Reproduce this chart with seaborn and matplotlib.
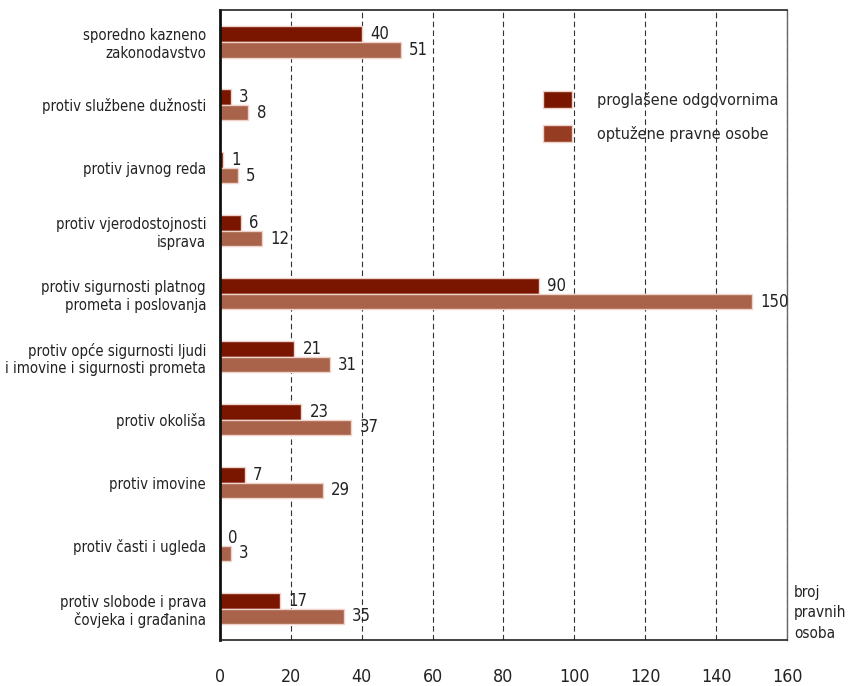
import pandas as pd
import matplotlib
matplotlib.use("Agg")
import matplotlib.pyplot as plt
from matplotlib import font_manager
import seaborn as sns
from matplotlib.patches import Patch

# categories, top to bottom
kategorije = [
    "sporedno kazneno\nzakonodavstvo",
    "protiv službene dužnosti",
    "protiv javnog reda",
    "protiv vjerodostojnosti\nisprava",
    "protiv sigurnosti platnog\nprometa i poslovanja",
    "protiv opće sigurnosti ljudi\ni imovine i sigurnosti prometa",
    "protiv okoliša",
    "protiv imovine",
    "protiv časti i ugleda",
    "protiv slobode i prava\nčovjeka i građanina",
]
proglasene = [40, 3, 1, 6, 90, 21, 23, 7, 0, 17]
optuzene = [51, 8, 5, 12, 150, 31, 37, 29, 3, 35]
serije = ["proglašene odgovornima", "optužene pravne osobe"]
x_ticks = [0, 20, 40, 60, 80, 100, 120, 140, 160]

df = pd.DataFrame({
    "kategorija": kategorije * 2,
    "broj": proglasene + optuzene,
    "serija": [serije[0]] * len(kategorije) + [serije[1]] * len(kategorije),
})

sns.set_style("white")

# reference uses a narrow font; use one if the system has it
fonts = font_manager.fontManager.ttflist
names = {f.name for f in fonts}
fs = 13
if "Liberation Sans Narrow" in names:
    plt.rcParams["font.family"] = ["Liberation Sans Narrow", "DejaVu Sans"]
elif any(f.name == "DejaVu Sans" and f.stretch == "condensed" for f in fonts):
    plt.rcParams["font.family"] = ["DejaVu Sans"]
    plt.rcParams["font.stretch"] = "condensed"
    fs = 11.3
else:
    plt.rcParams["font.family"] = ["Liberation Sans", "DejaVu Sans"]
    fs = 11.3

tamna = "#7a1600"
svijetla = "#a8634a"

fig = plt.figure(figsize=(8.49, 6.86), dpi=100)
ax = fig.add_axes([0.259, 0.067, 0.668, 0.918])

sns.barplot(data=df, y="kategorija", x="broj", hue="serija", orient="h",
            order=kategorije, hue_order=serije, palette=[tamna, svijetla],
            saturation=1, width=0.5, edgecolor="#efd3cb", linewidth=1,
            ax=ax, legend=False)

for cont in ax.containers:
    ax.bar_label(cont, padding=6, fontsize=fs + 0.7, color="#222222")

ax.set_xlim(0, 160)
ax.set_ylim(9.5, -0.5)
ax.set_xticks(x_ticks)
ax.set_xticklabels([str(t) for t in x_ticks], fontsize=fs + 1.5)
ax.tick_params(axis="x", length=0, pad=20, colors="#222222")
ax.tick_params(axis="y", length=0, pad=10, labelsize=fs - 0.6, colors="#222222")
ax.set_xlabel("")
ax.set_ylabel("")

ax.set_axisbelow(True)
ax.grid(axis="x", color="#333333", linestyle=(0, (5, 3)), linewidth=0.8)
ax.grid(axis="y", visible=False)

for s in ["top", "bottom"]:
    ax.spines[s].set_color("#222222")
    ax.spines[s].set_linewidth(1.2)
ax.spines["left"].set_color("#111111")
ax.spines["left"].set_linewidth(2)
ax.spines["right"].set_color("#666666")
ax.spines["right"].set_linewidth(1)

ax.text(1.012, 0.043, "broj\npravnih\nosoba", transform=ax.transAxes,
        ha="left", va="center", fontsize=fs - 0.3, linespacing=1.45, color="#222222")

handles = [Patch(facecolor=tamna, edgecolor="#efd3cb"),
           Patch(facecolor="#963c22", edgecolor="#efd3cb")]
ax.legend(handles, serije, loc="upper left", bbox_to_anchor=(0.545, 0.895),
          frameon=False, fontsize=fs + 0.3, handlelength=1.8, handleheight=1.3,
          handletextpad=1.5, labelspacing=1.0)

fig.savefig("out.png", dpi=100)
